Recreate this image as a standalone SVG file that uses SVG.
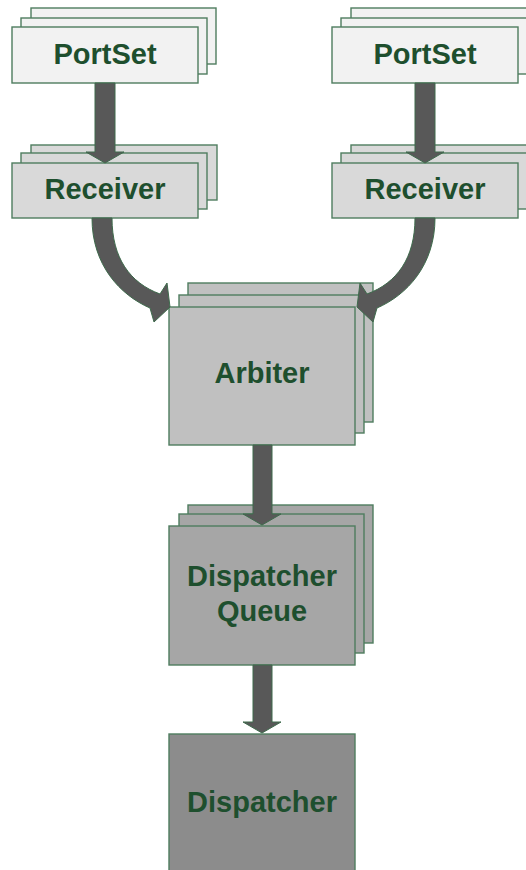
<svg xmlns="http://www.w3.org/2000/svg" width="526" height="870" viewBox="0 0 526 870">
  <style>
    .box { stroke: #4f7d5f; stroke-width: 1.4; }
    .portset { fill: #f2f2f2; }
    .receiver { fill: #d9d9d9; }
    .arbiter { fill: #c0c0c0; }
    .queue { fill: #a6a6a6; }
    .dispatcher { fill: #8c8c8c; }
    .label { font-family: "Liberation Sans", Arial, sans-serif; font-weight: bold; font-size: 29px; fill: #1e4f2e; text-anchor: middle; }
    .arrow { fill: #585858; stroke: #3e6b4c; stroke-width: 1; stroke-linejoin: miter; }
  </style>
  <rect width="526" height="870" fill="#ffffff"/>

  <!-- left port set stack -->
  <g id="portset-left">
    <rect class="box portset" x="31" y="8" width="185" height="56"/>
    <rect class="box portset" x="21" y="18" width="186" height="56"/>
    <rect class="box portset" x="12" y="27" width="186" height="56"/>
    <text class="label" x="105" y="64">PortSet</text>
  </g>

  <!-- right port set stack -->
  <g id="portset-right">
    <rect class="box portset" x="351" y="8" width="185" height="56"/>
    <rect class="box portset" x="341" y="18" width="186" height="56"/>
    <rect class="box portset" x="332" y="27" width="186" height="56"/>
    <text class="label" x="425" y="64">PortSet</text>
  </g>

  <!-- left receiver stack -->
  <g id="receiver-left">
    <rect class="box receiver" x="31" y="145" width="186" height="55"/>
    <rect class="box receiver" x="21" y="153" width="186" height="56"/>
    <rect class="box receiver" x="12" y="163" width="186" height="55"/>
    <text class="label" x="105" y="199">Receiver</text>
  </g>

  <!-- right receiver stack -->
  <g id="receiver-right">
    <rect class="box receiver" x="351" y="145" width="186" height="55"/>
    <rect class="box receiver" x="341" y="153" width="186" height="56"/>
    <rect class="box receiver" x="332" y="163" width="186" height="55"/>
    <text class="label" x="425" y="199">Receiver</text>
  </g>

  <!-- arbiter stack -->
  <g id="arbiter">
    <rect class="box arbiter" x="188" y="283" width="185" height="139"/>
    <rect class="box arbiter" x="179" y="295" width="185" height="138"/>
    <rect class="box arbiter" x="169" y="307" width="186" height="138"/>
    <text class="label" x="262" y="383">Arbiter</text>
  </g>

  <!-- dispatcher queue stack -->
  <g id="dispatcher-queue">
    <rect class="box queue" x="188" y="505" width="185" height="138"/>
    <rect class="box queue" x="179" y="514" width="185" height="139"/>
    <rect class="box queue" x="169" y="526" width="186" height="139"/>
    <text class="label" x="262" y="586">Dispatcher</text>
    <text class="label" x="262" y="621">Queue</text>
  </g>

  <!-- dispatcher -->
  <g id="dispatcher">
    <rect class="box dispatcher" x="169" y="734" width="186" height="150"/>
    <text class="label" x="262" y="812">Dispatcher</text>
  </g>

  <!-- block arrows -->
  <g id="connectors">
    <path class="arrow" d="M95,83 H115 V152 H124 L105,163 L86,152 H95 Z"/>
    <path class="arrow" d="M415,83 H435 V152 H444 L425,163 L406,152 H415 Z"/>
    <path class="arrow" d="M92,218 C92,265 120,295 150,308 L154,322 L170,307 L167,283 L160,294 C130,283 112,258 112,218 Z"/>
    <path class="arrow" d="M435,218 C435,265 407,295 377,308 L373,322 L357,307 L360,283 L367,294 C397,283 415,258 415,218 Z"/>
    <path class="arrow" d="M253,445 H272 V514 H281 L262,525 L243,514 H253 Z"/>
    <path class="arrow" d="M253,665 H272 V722 H281 L262,733 L243,722 H253 Z"/>
  </g>
</svg>
